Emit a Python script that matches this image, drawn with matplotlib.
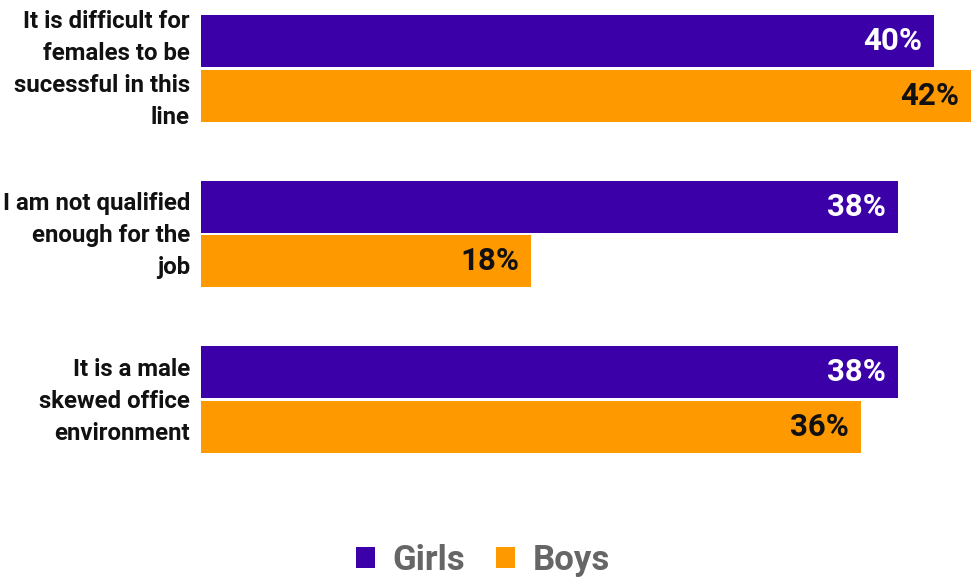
import numpy as np
import matplotlib
matplotlib.use("Agg")
import matplotlib.pyplot as plt
import matplotlib.transforms as mtransforms

categories = [
    "It is difficult for\nfemales to be\nsucessful in this\nline",
    "I am not qualified\nenough for the\njob",
    "It is a male\nskewed office\nenvironment",
]
girls = [40, 38, 38]
boys = [42, 18, 36]
series_names = ["Girls", "Boys"]

PURPLE = "#3c00a8"
ORANGE = "#ff9900"

plt.rcParams["font.family"] = ["Roboto", "DejaVu Sans"]
plt.rcParams["font.weight"] = "bold"

fig = plt.figure(figsize=(9.71, 5.83), dpi=100)
ax = fig.add_axes([201 / 971, 130 / 583, 770 / 971, 438 / 583])

y = np.arange(len(categories))
off = 0.165
h = 0.313
b1 = ax.barh(y - off, girls, height=h, color=PURPLE, label=series_names[0])
b2 = ax.barh(y + off, boys, height=h, color=ORANGE, label=series_names[1])

for rect, v in zip(b1, girls):
    ax.text(rect.get_width() - 0.65, rect.get_y() + rect.get_height() / 2, f"{v}%",
            ha="right", va="center", color="white", fontsize=22.5, fontweight="bold")
for rect, v in zip(b2, boys):
    ax.text(rect.get_width() - 0.65, rect.get_y() + rect.get_height() / 2, f"{v}%",
            ha="right", va="center", color="#111111", fontsize=22.5, fontweight="bold")

ax.set_xlim(0, 42)
ax.set_ylim(2.322, -0.322)
ax.set_yticks(y)
ax.set_yticklabels(categories, fontsize=17.3, fontweight="bold", color="#111111",
                   ha="right", linespacing=1.5)
ax.tick_params(axis="y", length=0, pad=8)
ax.set_xticks([])
for s in ax.spines.values():
    s.set_visible(False)

# nudge category labels up a few pixels
shift = mtransforms.ScaledTranslation(0, 4 / 72, fig.dpi_scale_trans)
for lbl in ax.get_yticklabels():
    lbl.set_transform(lbl.get_transform() + shift)

leg = fig.legend(handles=[b1, b2], loc="center", bbox_to_anchor=(0.497, 0.039),
                 ncol=2, frameon=False, handlelength=0.55, handleheight=0.55,
                 handletextpad=0.5, columnspacing=0.9,
                 prop={"size": 25, "weight": "bold"})
for t in leg.get_texts():
    t.set_color("#666666")

fig.savefig("out.png", dpi=100)
